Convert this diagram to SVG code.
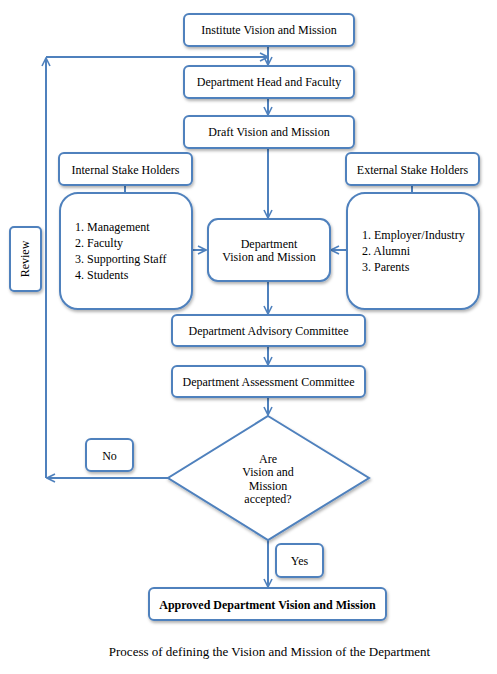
<svg xmlns="http://www.w3.org/2000/svg" width="497" height="674" viewBox="0 0 497 674">
<style>
.b{fill:#fff;stroke:#4F81BD;stroke-width:2;filter:url(#sh)}
.t{font-family:'Liberation Serif',serif;font-size:12px;fill:#000;text-anchor:middle}
.l{font-family:'Liberation Serif',serif;font-size:12px;fill:#000}
.c{fill:none;stroke:#4F81BD;stroke-width:2}
</style>
<defs>
<filter id="sh" x="-10%" y="-10%" width="130%" height="140%">
<feDropShadow dx="1" dy="2" stdDeviation="1.5" flood-color="#000" flood-opacity="0.3"/>
</filter>
<marker id="a" viewBox="0 0 10 10" refX="9" refY="5" markerWidth="10" markerHeight="10" markerUnits="userSpaceOnUse" orient="auto">
<path d="M1,1 L9,5 L1,9" fill="none" stroke="#4F81BD" stroke-width="1.6"/>
</marker>
</defs>
<rect width="497" height="674" fill="#fff"/>
<g id="connectors">
<line class="c" x1="268" y1="46" x2="268" y2="65" marker-end="url(#a)"/>
<line class="c" x1="268" y1="98" x2="268" y2="115" marker-end="url(#a)"/>
<line class="c" x1="268" y1="148" x2="268" y2="218" marker-end="url(#a)"/>
<line class="c" x1="125" y1="185" x2="125" y2="193"/>
<line class="c" x1="412" y1="185" x2="412" y2="193"/>
<line class="c" x1="192" y1="250" x2="206" y2="250" marker-end="url(#a)"/>
<line class="c" x1="347" y1="250" x2="331" y2="250" marker-end="url(#a)"/>
<line class="c" x1="268" y1="281" x2="268" y2="314" marker-end="url(#a)"/>
<line class="c" x1="268" y1="346" x2="268" y2="365" marker-end="url(#a)"/>
<line class="c" x1="268" y1="397" x2="268" y2="415" marker-end="url(#a)"/>
<line class="c" x1="168" y1="478" x2="47" y2="478" marker-end="url(#a)"/>
<line class="c" x1="46" y1="478" x2="46" y2="58" marker-end="url(#a)"/>
<line class="c" x1="46" y1="57" x2="268" y2="57" marker-end="url(#a)"/>
<line class="c" x1="268" y1="540" x2="268" y2="587" marker-end="url(#a)"/>
</g>
<g id="institute"><rect class="b" x="184" y="14" width="170" height="32" rx="5"/><text class="t" x="269" y="34">Institute Vision and Mission</text></g>
<g id="head"><rect class="b" x="184" y="66" width="170" height="32" rx="5"/><text class="t" x="269" y="86">Department Head and Faculty</text></g>
<g id="draft"><rect class="b" x="184" y="116" width="170" height="32" rx="5"/><text class="t" x="269" y="136">Draft Vision and Mission</text></g>
<g id="internal"><rect class="b" x="59" y="153" width="133" height="32" rx="5"/><text class="t" x="125.5" y="174">Internal Stake Holders</text></g>
<g id="external"><rect class="b" x="346" y="153" width="133" height="32" rx="5"/><text class="t" x="412.5" y="174">External Stake Holders</text></g>
<g id="internal-list"><rect class="b" x="60" y="193" width="132" height="116" rx="18"/>
<text class="l" x="75" y="231">1. Management</text>
<text class="l" x="75" y="247">2. Faculty</text>
<text class="l" x="75" y="263">3. Supporting Staff</text>
<text class="l" x="75" y="279">4. Students</text></g>
<g id="external-list"><rect class="b" x="347" y="193" width="132" height="116" rx="18"/>
<text class="l" x="362" y="239">1. Employer/Industry</text>
<text class="l" x="362" y="255">2. Alumni</text>
<text class="l" x="362" y="271">3. Parents</text></g>
<g id="dept-vm"><rect class="b" x="208" y="219" width="122" height="62" rx="10"/>
<text class="t" x="269" y="248">Department</text>
<text class="t" x="269" y="261">Vision and Mission</text></g>
<g id="review"><rect class="b" x="10" y="227" width="31" height="64" rx="4"/>
<text class="t" transform="translate(29,259) rotate(-90)">Review</text></g>
<g id="advisory"><rect class="b" x="172" y="315" width="193" height="31" rx="5"/><text class="t" x="268.5" y="335">Department Advisory Committee</text></g>
<g id="assessment"><rect class="b" x="172" y="366" width="193" height="31" rx="5"/><text class="t" x="268.5" y="386">Department Assessment Committee</text></g>
<g id="decision"><polygon class="b" points="268,416 369,478 268,540 168,478"/>
<text class="t" x="268" y="463">Are</text>
<text class="t" x="268" y="476">Vision and</text>
<text class="t" x="268" y="490">Mission</text>
<text class="t" x="268" y="503">accepted?</text></g>
<g id="no"><rect class="b" x="86" y="439" width="47" height="32" rx="5"/><text class="t" x="109.5" y="460">No</text></g>
<g id="yes"><rect class="b" x="276" y="544" width="47" height="33" rx="5"/><text class="t" x="299.5" y="565">Yes</text></g>
<g id="approved"><rect class="b" x="149" y="588" width="237" height="32" rx="5"/><text class="t" x="267.5" y="609" font-weight="bold">Approved Department Vision and Mission</text></g>
<text class="t" x="269.5" y="656" style="font-size:13px">Process of defining the Vision and Mission of the Department</text>
</svg>
